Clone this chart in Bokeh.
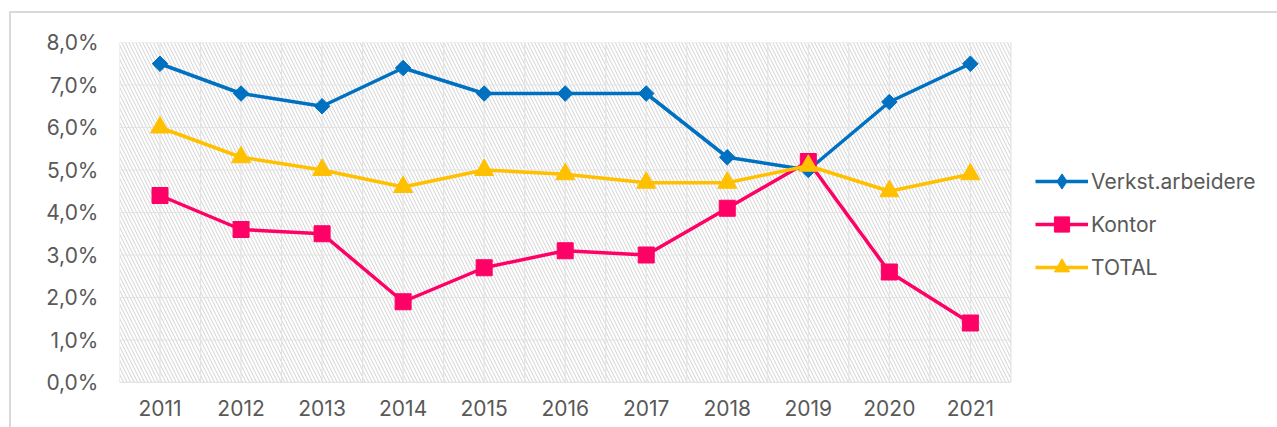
import math
from bokeh.plotting import figure
from bokeh.models import (FixedTicker, CustomJSTickFormatter, Legend, LegendItem,
                          BoxAnnotation, Range1d)
from bokeh.embed import file_html
from bokeh.resources import INLINE

years = [2011, 2012, 2013, 2014, 2015, 2016, 2017, 2018, 2019, 2020, 2021]
verkst = [7.5, 6.8, 6.5, 7.4, 6.8, 6.8, 6.8, 5.3, 5.0, 6.6, 7.5]
kontor = [4.4, 3.6, 3.5, 1.9, 2.7, 3.1, 3.0, 4.1, 5.2, 2.6, 1.4]
total = [6.0, 5.3, 5.0, 4.6, 5.0, 4.9, 4.7, 4.7, 5.1, 4.5, 4.9]
y_ticks = [0, 1, 2, 3, 4, 5, 6, 7, 8]

FONT = "Inter"
TXT = "#595959"
BORDER = "#d9d9d9"
GRID = "#e3e3e3"

x0, x1 = years[0] - 0.5, years[-1] + 0.5
y0, y1 = y_ticks[0], y_ticks[-1]
# frame extends to the right edge so that the legend (inside the frame) is not clipped
plot_px = 1010.5 - 119.5
x_end = x1 + (1277 - 1010.5) * (x1 - x0) / plot_px

p = figure(width=1277, height=427, output_backend="svg", toolbar_location=None,
           x_range=Range1d(x0, x_end), y_range=Range1d(y0, y1),
           min_border_left=119, min_border_right=0, min_border_top=42,
           min_border_bottom=45)
p.outline_line_color = None
p.background_fill_alpha = 0
p.border_fill_alpha = 0
p.styles = {
    "background": (f"linear-gradient({BORDER},{BORDER}) 9px 11px / 2px 100% no-repeat, "
                   f"linear-gradient({BORDER},{BORDER}) 9px 11px / 100% 2px no-repeat, white"),
}

# hatched plot area
p.add_layout(BoxAnnotation(left=x0, right=x1, bottom=y0, top=y1,
                           fill_alpha=0, line_alpha=0,
                           hatch_pattern="\\", hatch_color="#d2d2d2", hatch_scale=7,
                           hatch_weight=1, level="underlay"))

# grid lines (drawn over the plot area only)
p.xgrid.visible = False
p.ygrid.visible = False
vx = [x0 + 0.5 * k for k in range(int((x1 - x0) / 0.5) + 1)]
p.segment(x0=vx, x1=vx, y0=[y0] * len(vx), y1=[y1] * len(vx),
          line_color=GRID, line_width=1.2)
p.segment(x0=[x0] * len(y_ticks), x1=[x1] * len(y_ticks), y0=y_ticks, y1=y_ticks,
          line_color=GRID, line_width=1.2)
# category axis line
p.segment(x0=[x0], x1=[x1], y0=[y0], y1=[y0], line_color=BORDER, line_width=1.5)

p.xaxis.ticker = FixedTicker(ticks=years)
p.yaxis.ticker = FixedTicker(ticks=y_ticks)
p.yaxis.formatter = CustomJSTickFormatter(code="return tick.toFixed(1).replace('.', ',') + '%';")
for ax in (p.xaxis[0], p.yaxis[0]):
    ax.major_tick_line_color = None
    ax.minor_tick_line_color = None
    ax.major_tick_out = 0
    ax.major_tick_in = 0
    ax.minor_tick_out = 0
    ax.axis_line_color = None
    ax.major_label_text_font = FONT
    ax.major_label_text_font_size = "21px"
    ax.major_label_text_color = TXT
p.xaxis.major_label_standoff = 17
p.yaxis.major_label_standoff = 21

series = [("Verkst.arbeidere", verkst, "#0070C0", "square", 11, math.pi / 4, "diamond", 17),
          ("Kontor", kontor, "#FF0066", "square", 16, 0, "square", 15),
          ("TOTAL", total, "#FFC000", "triangle", 19, 0, "triangle", 17)]
items = []
for name, vals, col, mk, sz, ang, legmk, legsz in series:
    l = p.line(years, vals, line_color=col, line_width=3.5)
    s = p.scatter(years, vals, marker=mk, size=sz, angle=ang,
                  fill_color=col, line_color=col)
    # renderer used for the legend swatch only (not drawn in the plot)
    lg = p.scatter(x=[float("nan")], y=[float("nan")], marker=legmk, size=legsz,
                   fill_color=col, line_color=col)
    items.append(LegendItem(label=name, renderers=[l, lg]))

legend = Legend(items=items, location=(916, 96), orientation="vertical",
                glyph_width=53, glyph_height=38, label_height=25,
                label_standoff=3, spacing=5,
                padding=0, margin=0, border_line_alpha=0, background_fill_alpha=0,
                label_text_font=FONT, label_text_font_size="21px",
                label_text_color=TXT)
p.add_layout(legend, "center")

open("out.html", "w").write(file_html(p, INLINE))
